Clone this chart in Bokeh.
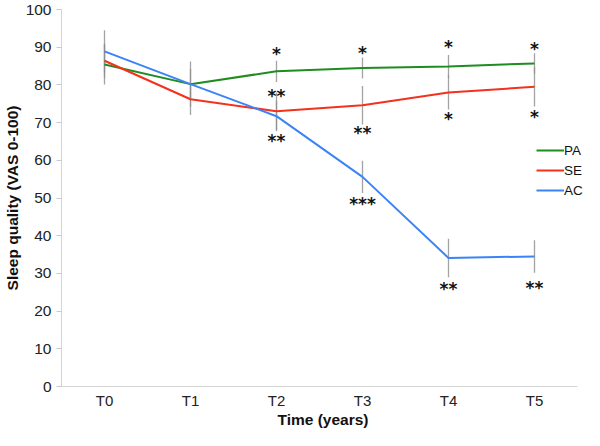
from bokeh.plotting import figure
from bokeh.models import Range1d, Legend, LegendItem, ColumnDataSource, FixedTicker
from bokeh.embed import file_html
from bokeh.resources import INLINE
from bokeh.core.properties import value

# ---- data ----
times = ["T0", "T1", "T2", "T3", "T4", "T5"]
pa = [85.4, 80.2, 83.6, 84.5, 84.9, 85.7]
se = [86.4, 76.2, 73.0, 74.6, 78.0, 79.5]
ac = [88.9, 80.2, 71.7, 55.6, 34.1, 34.5]
pa_err = [5.3, 4.0, 2.8, 2.8, 3.0, 2.7]
se_err = [4.5, 4.2, 5.0, 5.1, 4.5, 5.2]
ac_err = [5.6, 6.0, 4.0, 4.3, 5.1, 4.3]

sig_time = ["T2", "T2", "T2", "T3", "T3", "T3", "T4", "T4", "T4", "T5", "T5", "T5"]
sig_val = [89.3, 78.2, 66.3, 89.4, 68.4, 49.5, 91.0, 71.9, 27.0, 90.6, 72.6, 27.2]
sig_text = ["*", "**", "**", "*", "**", "***", "*", "*", "**", "*", "*", "**"]

y_ticks = [0, 10, 20, 30, 40, 50, 60, 70, 80, 90, 100]

GREEN = "#1f8c1f"
RED = "#f4311d"
BLUE = "#3b83f6"
FONT = "Liberation Sans"

pos = {t: i + 0.5 for i, t in enumerate(times)}
xs = [pos[t] for t in times]

W, H = 584, 430
LEFT, AXIS_END, RIGHT_GAP = 54, 570, 7
px_per = (AXIS_END - LEFT) / len(times)
x_end = (W - LEFT - RIGHT_GAP) / px_per

p = figure(width=W, height=H, x_range=Range1d(0, x_end), y_range=Range1d(0, 100),
           output_backend="svg", toolbar_location=None, min_border=0,
           min_border_left=LEFT, min_border_right=0, min_border_top=9, min_border_bottom=40)
p.outline_line_color = None
p.grid.grid_line_color = None
p.background_fill_color = "white"
p.border_fill_color = "white"

for vals, errs in ((pa, pa_err), (se, se_err), (ac, ac_err)):
    lo = [v - e for v, e in zip(vals, errs)]
    hi = [v + e for v, e in zip(vals, errs)]
    p.segment(x0=xs, y0=lo, x1=xs, y1=hi, line_color="#8c8c8c", line_width=1.3, line_alpha=0.8)

r_pa = p.line(xs, pa, line_color=GREEN, line_width=2)
r_se = p.line(xs, se, line_color=RED, line_width=2)
r_ac = p.line(xs, ac, line_color=BLUE, line_width=2)

src = ColumnDataSource(dict(x=[pos[t] for t in sig_time], y=sig_val, t=sig_text))
p.text(x="x", y="y", text="t", source=src, text_align="center", text_baseline="middle",
       text_font=value("DejaVu Sans"), text_font_style="bold", text_font_size="17px",
       text_color="#111111", y_offset=4)

legend = Legend(items=[LegendItem(label="PA", renderers=[r_pa]),
                       LegendItem(label="SE", renderers=[r_se]),
                       LegendItem(label="AC", renderers=[r_ac])],
                location=(475, 186), orientation="vertical")
legend.glyph_width = 28
legend.glyph_height = 20
legend.label_height = 20
legend.label_standoff = 0
legend.spacing = 0
legend.padding = 0
legend.margin = 0
legend.border_line_color = None
legend.background_fill_alpha = 0
legend.label_text_font = FONT
legend.label_text_font_size = "13.5px"
legend.label_text_color = "#111111"
p.add_layout(legend)

ax = p.yaxis[0]
ax.ticker = y_ticks
ax.axis_line_color = "#d4d4d4"
ax.major_tick_line_color = "#c8c8c8"
ax.major_tick_out = 5
ax.major_tick_in = 0
ax.minor_tick_line_color = None
ax.major_label_standoff = 5
ax.major_label_text_font = FONT
ax.major_label_text_font_size = "15.5px"
ax.major_label_text_color = "#222222"
ax.axis_label = "Sleep quality (VAS 0-100)"
ax.axis_label_text_font = FONT
ax.axis_label_text_font_style = "bold"
ax.axis_label_text_font_size = "15.5px"
ax.axis_label_text_color = "#111111"
ax.axis_label_standoff = 2

bx = p.xaxis[0]
bx.ticker = FixedTicker(ticks=xs)
bx.major_label_overrides = {pos[t]: t for t in times}
bx.bounds = (0, len(times))
bx.axis_line_color = "#d4d4d4"
bx.major_tick_line_color = None
bx.minor_tick_line_color = None
bx.major_tick_out = 0
bx.major_tick_in = 0
bx.major_label_standoff = 5
bx.major_label_text_font = FONT
bx.major_label_text_font_size = "15px"
bx.major_label_text_color = "#222222"
bx.axis_label = "Time (years)"
bx.axis_label_text_font = FONT
bx.axis_label_text_font_style = "bold"
bx.axis_label_text_font_size = "15.5px"
bx.axis_label_text_color = "#111111"
bx.axis_label_standoff = -1

open("out.html", "w").write(file_html(p, INLINE))
